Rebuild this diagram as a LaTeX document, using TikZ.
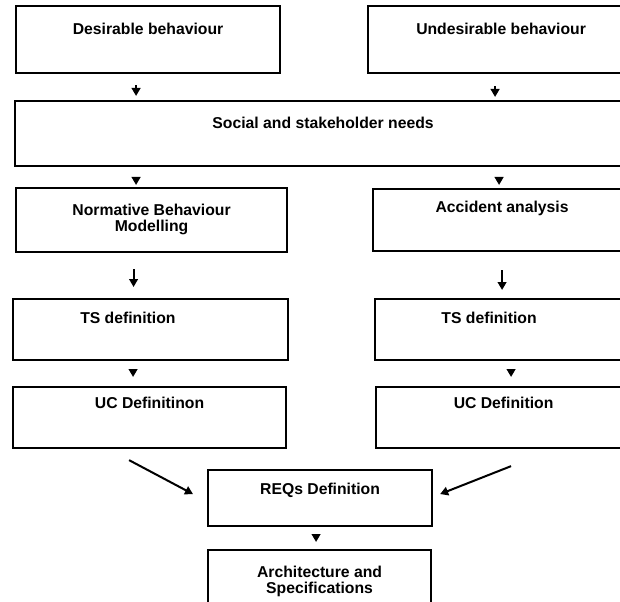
\documentclass[tikz,border=0pt]{standalone}
\usepackage{fontspec}
\setmainfont{Liberation Sans}
\usetikzlibrary{positioning, arrows.meta, calc}
\tikzset{
    % Box styles
    box/.style={rectangle, draw, line width=1.6pt, anchor=north west, inner sep=0pt,
                align=center, font=\bfseries\fontsize{11.8}{12}\selectfont},
    % Arrow styles
    arrow/.style={-{Triangle[length=6pt, width=6.5pt]}, line width=1.5pt},
}

\begin{document}
\begin{tikzpicture}[x=0.75pt, y=-0.75pt]
    \clip (0,0) rectangle (620,602);

    % Behaviour boxes
    \node[box, minimum width=198pt, text height=21pt, text depth=29.25pt] (des) at (15,5) {Desirable behaviour};
    \node[box, minimum width=199.5pt, text height=21pt, text depth=29.25pt] (undes) at (367,5) {Undesirable behaviour};
    \node[box, minimum width=462pt, text height=20.25pt, text depth=28.5pt] (needs) at (14,100) {Social and stakeholder needs};

    % Left branch
    \node[box, minimum width=203.25pt, text height=32.25pt, text depth=15.75pt] (norm) at (15,187) {Normative Behaviour\\Modelling};
    \node[box, minimum width=206.25pt, text height=18pt, text depth=27.75pt] (tsl) at (12,298) {TS definition\hspace*{34pt}};
    \node[box, minimum width=204.75pt, text height=15.75pt, text depth=30pt] (ucl) at (12,386) {UC Definitinon};

    % Right branch
    \node[box, minimum width=193.5pt, text height=17.25pt, text depth=29.25pt] (acc) at (372,188) {Accident analysis};
    \node[box, minimum width=192pt, text height=18pt, text depth=27.75pt] (tsr) at (374,298) {TS definition\hspace*{21pt}};
    \node[box, minimum width=191.25pt, text height=15.75pt, text depth=30pt] (ucr) at (375,386) {UC Definition};

    % Merge
    \node[box, minimum width=168pt, text height=18pt, text depth=24pt] (reqs) at (207,469) {REQs Definition};
    \node[box, minimum width=167.25pt, text height=32.25pt, text depth=20.25pt] (arch) at (207,549) {Architecture and\\Specifications};

    % Arrows
    \draw[arrow] ($(des.south)+(-12,11)$) -- ($(des.south |- needs.north)+(-12,-4)$);
    \draw[arrow] ($(undes.south)+(-6,12)$) -- ($(undes.south |- needs.north)+(-6,-3)$);
    \draw[arrow] ($(des.south |- needs.south)+(-12,11)$) -- ($(des.south |- norm.north)+(-12,-2)$);
    \draw[arrow] ($(undes.south |- needs.south)+(-2,11)$) -- ($(undes.south |- acc.north)+(-2,-3)$);
    \draw[arrow] ($(norm.south)+(-18,16)$) -- ($(norm.south |- tsl.north)+(-18,-11)$);
    \draw[arrow] ($(acc.south)+(0,18)$) -- ($(acc.south |- tsr.north)+(0,-8)$);
    \draw[arrow] ($(tsl.south)+(-17.5,8)$) -- ($(tsl.south |- ucl.north)+(-17.5,-9)$);
    \draw[arrow] ($(tsr.south)+(8,8)$) -- ($(tsr.south |- ucr.north)+(8,-9)$);
    \draw[arrow] ($(ucl.south)+(-20.5,11)$) -- ($(reqs.west)+(-14,-4)$);
    \draw[arrow] ($(ucr.south)+(7.5,17)$) -- ($(reqs.east)+(7,-4)$);
    \draw[arrow] ($(reqs.south)+(-4,8)$) -- ($(reqs.south |- arch.north)+(-4,-7)$);
\end{tikzpicture}
\end{document}
